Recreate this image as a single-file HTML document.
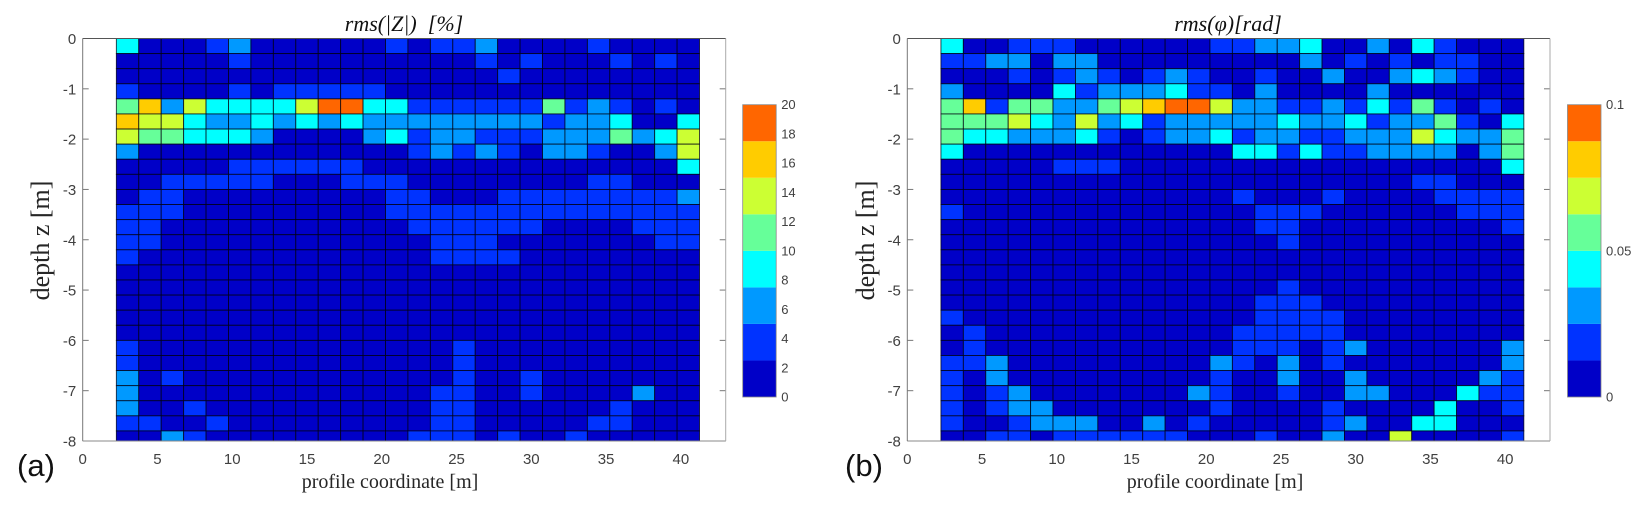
<!DOCTYPE html>
<html lang="en">
<head>
<meta charset="utf-8">
<title>rms heatmaps</title>
<style>
html,body{margin:0;padding:0;background:#fff;width:1648px;height:506px;overflow:hidden}
svg{display:block}
.tick{font:15px "Liberation Sans",Arial,sans-serif;fill:#404040}
.cbt{font:13px "Liberation Sans",Arial,sans-serif;fill:#404040}
.lab{font-family:"Liberation Serif","DejaVu Serif",serif;fill:#262626}
.title{font-family:"Liberation Serif","DejaVu Serif",serif;font-style:italic;fill:#111}
.panel{font:31px "Liberation Sans",Arial,sans-serif;fill:#111}
</style>
</head>
<body>
<svg id="figure" width="1648" height="506" viewBox="0 0 1648 506" xmlns="http://www.w3.org/2000/svg">
<text class="title" x="404" y="31" text-anchor="middle" font-size="22">rms(|Z|) &#160;[%]</text>
<text class="title" x="1228" y="31" text-anchor="middle" font-size="22">rms(φ)[rad]</text>
<text class="panel" x="17" y="476">(a)</text>
<text class="panel" x="845" y="476">(b)</text>
<text class="lab" x="390" y="488" text-anchor="middle" font-size="20">profile coordinate [m]</text>
<text class="lab" x="1215" y="488" text-anchor="middle" font-size="20">profile coordinate [m]</text>
<text class="lab" transform="translate(49,240.5) rotate(-90)" text-anchor="middle" font-size="26">depth z [m]</text>
<text class="lab" transform="translate(874,240.5) rotate(-90)" text-anchor="middle" font-size="26">depth z [m]</text>
</svg>
<script>
const profileCenters = [3,4.5,6,7.5,9,10.5,12,13.5,15,16.5,18,19.5,21,22.5,24,25.5,27,28.5,30,31.5,33,34.5,36,37.5,39,40.5];
const depthTops = [0,-0.3,-0.6,-0.9,-1.2,-1.5,-1.8,-2.1,-2.4,-2.7,-3,-3.3,-3.6,-3.9,-4.2,-4.5,-4.8,-5.1,-5.4,-5.7,-6,-6.3,-6.6,-6.9,-7.2,-7.5,-7.8];
const xTickValues = [0,5,10,15,20,25,30,35,40];
const yTickValues = [0,-1,-2,-3,-4,-5,-6,-7,-8];
const bandColors = ['#0000c8','#0033ff','#0099ff','#00ffff','#66ff99','#ccff33','#ffcc00','#ff6600'];
const amplitudeTicks = [0,2,4,6,8,10,12,14,16,18,20];
const amplitudeTickLabels = ['0','2','4','6','8','10','12','14','16','18','20'];
const phaseTicks = [0,50,100];
const phaseTickLabels = ['0','0.05','0.1'];

// rms(|Z|) in percent, one row per depth, one column per profile position
const amplitudeRms = [
[9,1,1,1,3,6,1,1,1,1,1,1,3,1,3,3,6,1,1,1,1,3,1,1,1,1],
[1,1,1,1,1,3,1,1,1,1,1,1,1,1,1,1,3,1,3,1,1,1,3,1,3,1],
[1,1,1,1,1,1,1,1,1,1,1,1,1,1,1,1,1,3,1,1,1,1,1,1,1,1],
[3,1,1,1,1,3,1,3,3,3,3,3,1,1,1,1,1,1,1,1,1,1,1,1,1,1],
[11,16,6,14,9,9,9,9,14,19,19,9,9,3,3,3,3,3,3,11,3,6,3,1,3,1],
[16,14,14,9,6,6,9,6,9,6,9,6,6,6,6,6,6,6,6,3,6,6,9,1,1,9],
[14,11,11,9,9,9,6,1,1,1,1,6,9,3,6,6,3,3,3,6,6,6,11,6,9,14],
[6,1,1,1,1,1,1,1,1,1,1,1,1,3,6,3,6,3,1,6,6,3,1,1,6,14],
[1,1,1,1,1,3,3,3,3,3,3,1,1,1,1,1,1,1,1,1,1,1,1,1,1,9],
[1,1,3,3,3,3,3,1,1,1,3,3,3,1,1,1,1,1,1,1,1,3,3,1,1,1],
[1,3,3,1,1,1,1,1,1,1,1,1,3,3,1,1,1,3,3,3,3,3,3,3,3,6],
[3,3,3,1,1,1,1,1,1,1,1,1,3,3,3,3,3,3,3,3,3,3,3,3,3,3],
[3,3,1,1,1,1,1,1,1,1,1,1,1,3,3,3,3,3,3,1,1,1,1,3,3,3],
[3,3,1,1,1,1,1,1,1,1,1,1,1,1,3,3,3,1,1,1,1,1,1,1,3,3],
[3,1,1,1,1,1,1,1,1,1,1,1,1,1,3,3,3,3,1,1,1,1,1,1,1,1],
[1,1,1,1,1,1,1,1,1,1,1,1,1,1,1,1,1,1,1,1,1,1,1,1,1,1],
[1,1,1,1,1,1,1,1,1,1,1,1,1,1,1,1,1,1,1,1,1,1,1,1,1,1],
[1,1,1,1,1,1,1,1,1,1,1,1,1,1,1,1,1,1,1,1,1,1,1,1,1,1],
[1,1,1,1,1,1,1,1,1,1,1,1,1,1,1,1,1,1,1,1,1,1,1,1,1,1],
[1,1,1,1,1,1,1,1,1,1,1,1,1,1,1,1,1,1,1,1,1,1,1,1,1,1],
[3,1,1,1,1,1,1,1,1,1,1,1,1,1,1,3,1,1,1,1,1,1,1,1,1,1],
[3,1,1,1,1,1,1,1,1,1,1,1,1,1,1,3,1,1,1,1,1,1,1,1,1,1],
[6,1,3,1,1,1,1,1,1,1,1,1,1,1,1,3,1,1,3,1,1,1,1,1,1,1],
[6,1,1,1,1,1,1,1,1,1,1,1,1,1,3,3,1,1,3,1,1,1,1,6,1,1],
[6,1,1,3,1,1,1,1,1,1,1,1,1,1,3,3,1,1,1,1,1,1,3,1,1,1],
[3,3,1,1,3,1,1,1,1,1,1,1,1,1,3,3,1,1,1,1,1,3,3,1,1,1],
[1,1,6,3,1,1,1,1,1,1,1,1,1,3,3,3,1,3,1,1,3,1,1,1,1,1]
];

// rms(phi) in milliradians, one row per depth, one column per profile position
const phaseRms = [
[44,6,6,19,19,19,6,6,6,6,6,6,19,19,31,31,44,6,6,31,6,44,19,6,6,6],
[19,19,31,31,6,31,31,6,6,6,6,6,6,6,6,6,31,6,19,6,19,6,19,19,6,6],
[6,6,6,19,6,19,31,19,6,19,31,19,6,6,19,6,6,31,6,6,31,44,31,19,6,6],
[31,6,6,6,6,44,19,31,31,31,44,19,19,6,31,6,6,6,6,31,6,6,6,6,6,6],
[56,81,19,56,56,31,31,56,69,81,94,94,69,31,31,19,19,31,19,44,19,56,19,6,19,6],
[56,56,56,69,44,31,69,31,44,19,31,31,31,31,31,44,31,31,44,19,31,31,56,19,6,44],
[56,44,44,31,31,31,44,19,6,19,31,31,44,19,31,31,19,19,31,31,31,69,44,31,31,56],
[44,6,6,6,6,6,6,6,6,6,6,6,6,44,44,19,44,19,19,31,31,31,31,6,31,56],
[6,6,6,6,6,19,19,19,6,6,6,6,6,6,6,6,6,6,6,6,6,6,6,6,6,44],
[6,6,6,6,6,6,6,6,6,6,6,6,6,6,6,6,6,6,6,6,6,19,19,6,6,6],
[6,6,6,6,6,6,6,6,6,6,6,6,6,19,6,6,6,19,6,6,6,6,19,19,19,19],
[19,6,6,6,6,6,6,6,6,6,6,6,6,6,19,19,19,6,6,6,6,6,6,19,19,19],
[6,6,6,6,6,6,6,6,6,6,6,6,6,6,19,19,6,6,6,6,6,6,6,6,6,19],
[6,6,6,6,6,6,6,6,6,6,6,6,6,6,6,19,6,6,6,6,6,6,6,6,6,6],
[6,6,6,6,6,6,6,6,6,6,6,6,6,6,6,6,6,6,6,6,6,6,6,6,6,6],
[6,6,6,6,6,6,6,6,6,6,6,6,6,6,6,6,6,6,6,6,6,6,6,6,6,6],
[6,6,6,6,6,6,6,6,6,6,6,6,6,6,6,19,6,6,6,6,6,6,6,6,6,6],
[6,6,6,6,6,6,6,6,6,6,6,6,6,6,19,19,19,6,6,6,6,6,6,6,6,6],
[19,6,6,6,6,6,6,6,6,6,6,6,6,6,19,19,19,19,6,6,6,6,6,6,6,6],
[6,19,6,6,6,6,6,6,6,6,6,6,6,19,19,19,19,19,6,6,6,6,6,6,6,6],
[6,19,6,6,6,6,6,6,6,6,6,6,6,19,19,19,6,19,31,6,6,6,6,6,6,31],
[19,19,31,6,6,6,6,6,6,6,6,6,31,19,6,31,6,19,6,6,6,6,6,6,6,31],
[19,6,31,6,6,6,6,6,6,6,6,6,19,6,6,31,6,6,31,6,6,6,6,6,31,19],
[19,6,19,31,6,6,6,6,6,6,6,31,19,6,6,19,6,6,31,31,6,6,6,44,19,19],
[19,6,19,31,31,6,6,6,6,6,6,6,19,6,6,6,6,19,6,6,6,6,44,6,6,19],
[19,6,6,19,31,31,31,6,6,31,6,19,6,6,6,6,6,19,31,6,6,44,44,6,6,6],
[6,6,19,19,6,19,19,19,19,19,19,6,6,6,19,6,6,31,6,6,69,6,6,6,6,19]
];

const NS = 'http://www.w3.org/2000/svg';
const fig = document.getElementById('figure');

function node(tag, attrs, parent) {
  const el = document.createElementNS(NS, tag);
  for (const k in attrs) el.setAttribute(k, attrs[k]);
  parent.appendChild(el);
  return el;
}

function drawPanel(cfg) {
  const xScale = v => cfg.left + v * (cfg.right - cfg.left) / 43;
  const yScale = v => cfg.top - v * (cfg.bottom - cfg.top) / 8;
  const colorOf = v => bandColors[Math.min(7, Math.max(0, Math.floor(v / cfg.maxValue * 8)))];
  const g = node('g', {}, fig);
  
  

  // ticks
  yTickValues.forEach(t => {
    const left = node('line', {x1: cfg.left, x2: cfg.left + 6, y1: yScale(t), y2: yScale(t), stroke: '#777', 'stroke-width': 1}, g);
    
    
    const right = node('line', {x1: cfg.right - 6, x2: cfg.right, y1: yScale(t), y2: yScale(t), stroke: '#777', 'stroke-width': 1}, g);
    
    
    const label = node('text', {class: 'tick', x: cfg.left - 6.5, y: yScale(t) + 5.5, 'text-anchor': 'end'}, g);
    
    
    label.textContent = String(t);
  });
  xTickValues.forEach(t => {
    const label = node('text', {class: 'tick', x: xScale(t), y: cfg.bottom + 23, 'text-anchor': 'middle'}, g);
    
    
    label.textContent = String(t);
  });

  // heatmap cells
  cfg.values.forEach((row, r) => {
    row.forEach((v, c) => {
      const x0 = xScale(profileCenters[c] - 0.75);
      const x1 = xScale(profileCenters[c] + 0.75);
      const y0 = yScale(depthTops[r]);
      const y1 = yScale(Math.max(depthTops[r] - 0.3, -8));
      const cell = node('rect', {x: x0, y: y0, width: x1 - x0, height: y1 - y0, fill: colorOf(v), stroke: '#000010', 'stroke-width': 0.9, 'stroke-opacity': 0.8}, g);
      
      
    });
  });

  // axes box
  const edges = [
    ['axis-top', cfg.left, cfg.top, cfg.right, cfg.top, '#555'],
    ['axis-bottom', cfg.left, cfg.bottom, cfg.right, cfg.bottom, '#888'],
    ['axis-left', cfg.left, cfg.top, cfg.left, cfg.bottom, '#777'],
    ['axis-right', cfg.right, cfg.top, cfg.right, cfg.bottom, '#aaa']
  ];
  edges.forEach(e => {
    const line = node('line', {x1: e[1], y1: e[2], x2: e[3], y2: e[4], stroke: e[5], 'stroke-width': 1}, g);
    
    
  });

  // colorbar
  const cbScale = v => cfg.cbBottom - v * (cfg.cbBottom - cfg.cbTop) / cfg.maxValue;
  bandColors.forEach((color, i) => {
    const yTop = cbScale((i + 1) * cfg.maxValue / 8);
    const yBot = cbScale(i * cfg.maxValue / 8);
    const band = node('rect', {x: cfg.cbLeft, y: yTop, width: cfg.cbWidth, height: yBot - yTop, fill: color}, g);
    
    
  });
  const frame = node('rect', {x: cfg.cbLeft, y: cfg.cbTop, width: cfg.cbWidth, height: cfg.cbBottom - cfg.cbTop, fill: 'none', stroke: '#888', 'stroke-width': 0.8}, g);
  
  
  cfg.ticks.forEach((t, i) => {
    const label = node('text', {class: 'cbt', x: cfg.cbLeft + cfg.cbWidth + 5, y: cbScale(t) + 4.5}, g);
    
    
    label.textContent = cfg.tickLabels[i];
  });
}

drawPanel({name: 'amplitude', left: 82.7, right: 725.7, top: 38.5, bottom: 441, values: amplitudeRms, maxValue: 20, ticks: amplitudeTicks, tickLabels: amplitudeTickLabels, cbLeft: 742.7, cbWidth: 33.5, cbTop: 104.7, cbBottom: 397});
drawPanel({name: 'phase', left: 907.3, right: 1550, top: 38.5, bottom: 441, values: phaseRms, maxValue: 100, ticks: phaseTicks, tickLabels: phaseTickLabels, cbLeft: 1567.5, cbWidth: 33.5, cbTop: 104.7, cbBottom: 397});
</script>
</body>
</html>
